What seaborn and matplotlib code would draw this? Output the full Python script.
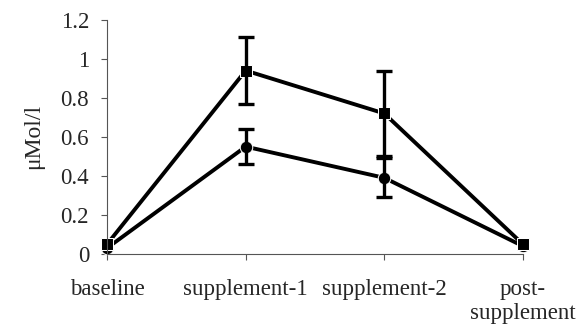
import numpy as np
import pandas as pd
import matplotlib
matplotlib.use('Agg')
import matplotlib.pyplot as plt
import seaborn as sns

categories = ['baseline', 'supplement-1', 'supplement-2', 'post-\nsupplement']
upper_mean = [0.05, 0.94, 0.72, 0.05]
upper_err = [0.0, 0.17, 0.22, 0.0]
lower_mean = [0.03, 0.55, 0.39, 0.04]
lower_err = [0.0, 0.09, 0.10, 0.0]

sns.set_style('ticks')
plt.rcParams['font.family'] = ['Liberation Serif', 'DejaVu Serif']

x = np.arange(len(categories))
df = pd.DataFrame({
    'x': np.concatenate([x, x]),
    'y': upper_mean + lower_mean,
    'series': ['upper'] * 4 + ['lower'] * 4,
})

fig = plt.figure(figsize=(5.79, 3.31), dpi=100)
ax = fig.add_axes([0.185, 0.233, 0.718, 0.707])

# lower first so the squares sit on top at the ends
sns.lineplot(data=df, x='x', y='y', hue='series', style='series',
             hue_order=['lower', 'upper'], style_order=['lower', 'upper'],
             markers={'upper': 's', 'lower': 'o'}, dashes=False,
             palette={'upper': 'black', 'lower': 'black'},
             linewidth=2.8, markersize=9, legend=False, ax=ax)

# error bars only where there is a spread
for mean, err in [(upper_mean, upper_err), (lower_mean, lower_err)]:
    idx = [i for i in x if err[i] > 0]
    ax.errorbar(idx, [mean[i] for i in idx], yerr=[err[i] for i in idx],
                fmt='none', ecolor='black', elinewidth=2.4,
                capsize=5.5, capthick=2.4)

ax.set_xlim(0, 3)
ax.set_ylim(0, 1.2)
ax.set_yticks([0, 0.2, 0.4, 0.6, 0.8, 1.0, 1.2])
ax.set_yticklabels(['0', '0.2', '0.4', '0.6', '0.8', '1', '1.2'])
ax.set_xticks(x)
ax.set_xticklabels(categories)
ax.set_xlabel('')
ax.set_ylabel('μMol/l', fontsize=17, labelpad=12)
ax.tick_params(axis='both', labelsize=16.5, color='#555555', width=0.8, length=4)
ax.tick_params(axis='x', pad=14)
ax.tick_params(axis='y', pad=9)
for s in ['left', 'bottom']:
    ax.spines[s].set_color('#555555')
    ax.spines[s].set_linewidth(0.8)
sns.despine(ax=ax)
for ln in ax.lines:
    ln.set_clip_on(False)
for c in ax.collections:
    c.set_clip_on(False)

ax.get_xticklabels()[-1].set_multialignment('center')

fig.savefig('out.png', dpi=100)
